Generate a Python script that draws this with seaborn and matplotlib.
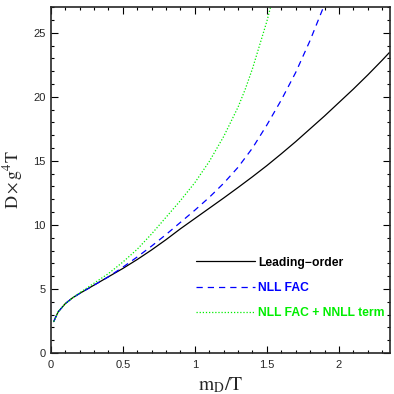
import numpy as np
import pandas as pd
import matplotlib
matplotlib.use("Agg")
import matplotlib.pyplot as plt
import seaborn as sns

# --- Datos ---
x_lo = [0.02, 0.05, 0.1, 0.15, 0.2, 0.3, 0.4, 0.5, 0.6, 0.7, 0.8, 0.9, 1.0, 1.1, 1.2,
        1.3, 1.4, 1.5, 1.6, 1.7, 1.8, 1.9, 2.0, 2.1, 2.2, 2.3, 2.35]
d_lo = [2.45, 3.2, 3.85, 4.3, 4.65, 5.3, 5.95, 6.6, 7.3, 8.05, 8.85, 9.7, 10.5, 11.3, 12.1,
        12.92, 13.76, 14.63, 15.55, 16.5, 17.5, 18.5, 19.55, 20.6, 21.7, 22.85, 23.45]

x_nll = [0.02, 0.05, 0.1, 0.15, 0.2, 0.3, 0.4, 0.5, 0.6, 0.7, 0.8, 0.9, 1.0, 1.1, 1.2,
         1.3, 1.4, 1.5, 1.6, 1.7, 1.8, 1.9]
d_nll = [2.45, 3.2, 3.85, 4.3, 4.65, 5.3, 5.95, 6.7, 7.5, 8.35, 9.25, 10.2, 11.15, 12.15, 13.25,
         14.5, 16.0, 17.8, 19.75, 21.9, 24.4, 27.2]

x_nnll = [0.02, 0.05, 0.1, 0.15, 0.2, 0.3, 0.4, 0.5, 0.6, 0.7, 0.8, 0.9, 1.0, 1.1, 1.2,
          1.3, 1.35, 1.4, 1.5, 1.53]
d_nnll = [2.45, 3.2, 3.85, 4.3, 4.7, 5.45, 6.2, 7.1, 8.1, 9.3, 10.6, 11.9, 13.3, 14.95, 16.9,
          19.2, 20.6, 22.2, 25.9, 27.2]

etiquetas = ["Leading\u2212order", "NLL FAC", "NLL FAC + NNLL term"]
colores = ["black", "#0000ff", "#00ee00"]
estilos = ["-", (0, (5, 4)), (0, (1, 1.5))]

# --- Visualizacion ---
sns.set_style("ticks")
plt.rcParams["font.family"] = ["Liberation Sans", "DejaVu Sans"]
plt.rcParams["mathtext.fontset"] = "stix"

fig = plt.figure(figsize=(3.94, 3.94), dpi=100)
ax = fig.add_axes([0.129, 0.104, 0.861, 0.878])

series = [(x_lo, d_lo), (x_nll, d_nll), (x_nnll, d_nnll)]
for (xs, ys), lab, col, ls in zip(series, etiquetas, colores, estilos):
    df = pd.DataFrame({"x": xs, "y": ys})
    sns.lineplot(data=df, x="x", y="y", ax=ax, color=col, linestyle=ls,
                 linewidth=0.9, label=lab, sort=True)

ax.set_xlim(0, 2.355)
ax.set_ylim(0, 27)
ax.set_xticks([0, 0.5, 1, 1.5, 2])
ax.set_xticklabels(["0", "0.5", "1", "1.5", "2"])
ax.set_yticks([0, 5, 10, 15, 20, 25])
ax.set_xticks(np.arange(0, 2.36, 0.1), minor=True)
ax.set_yticks(np.arange(0, 27.1, 1), minor=True)
ax.tick_params(which="both", direction="in", top=True, right=True, labelsize=8,
               width=0.8, color="black")
ax.tick_params(which="major", length=5)
ax.tick_params(which="minor", length=2.5)
ax.tick_params(axis="x", pad=5)
for s in ax.spines.values():
    s.set_linewidth(1.2)

ax.set_xlabel(r"$\mathrm{m_D/T}$", fontsize=14, labelpad=4)
ax.set_ylabel(r"$\mathrm{D\times g^4T}$", fontsize=13, labelpad=6)

leg = ax.legend(loc="lower left", bbox_to_anchor=(0.41, 0.08), frameon=False,
                handlelength=4.9, handletextpad=0.25, labelspacing=1.1,
                borderpad=0, prop={"weight": "bold", "size": 8.7,
                                   "family": "Liberation Sans"})
for txt, col in zip(leg.get_texts(), colores):
    txt.set_color(col)

plt.savefig("out.png", dpi=100)
